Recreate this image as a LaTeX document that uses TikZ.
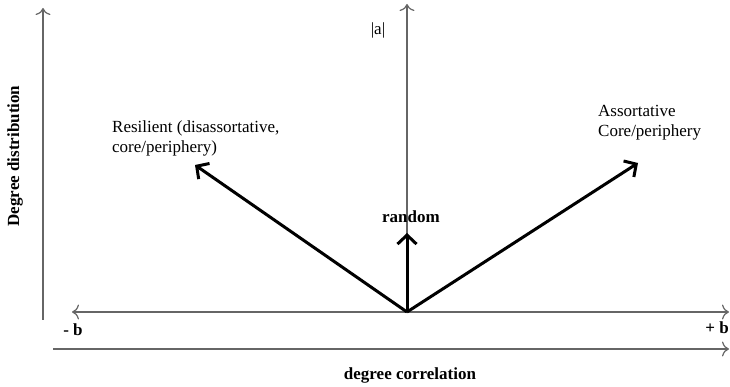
\documentclass[tikz,border=0pt]{standalone}
\usepackage{fontspec}
\setmainfont{Liberation Serif}
\usetikzlibrary{positioning, arrows.meta}

\begin{document}
\begin{tikzpicture}[x=1pt, y=1pt,
    axis/.style={draw=black!60, line width=1.2pt},
    tip/.style={-{To[length=7pt, width=15pt]}},
    trend/.style={line width=3pt, -{Straight Barb[length=9pt, width=19pt]}},
    lbl/.style={font=\fontsize{17}{20}\selectfont, align=left, inner sep=0pt},
    bl/.style={font=\fontsize{17}{20}\selectfont\bfseries, inner sep=0pt}]
    \useasboundingbox (0,0) rectangle (730,387);

    % Axes
    \coordinate (ydown) at (43,67);
    \coordinate (yup) at (43,379);
    \coordinate (O) at (407,75);
    \coordinate (atop) at (407,383);
    \coordinate (bneg) at (72,75);
    \coordinate (bpos) at (729,75);
    \coordinate (cleft) at (53,38);
    \coordinate (cright) at (729,38);
    \draw[axis, tip] (ydown) -- (yup);
    \draw[axis, tip] (O) -- (atop);
    \draw[axis, {To[length=7pt, width=15pt]}-{To[length=7pt, width=15pt]}] (bneg) -- (bpos);
    \draw[axis, tip] (cleft) -- (cright);

    % Trends
    \coordinate (resil) at (195,222);
    \coordinate (rand) at (407,154);
    \coordinate (assort) at (638,224);
    \draw[trend] (O) -- (resil);
    \draw[trend] (O) -- (rand);
    \draw[trend] (O) -- (assort);

    % Labels
    \node[bl] (minusb) at (73,57) {- b};
    \node[bl, anchor=east] (plusb) at (729,59) {+ b};
    \node[bl] (xlabel) at (410,12) {degree correlation};
    \node[bl, rotate=90] (ylabel) at (15,231) {Degree distribution};
    \node[lbl] (alabel) at (378,357) {|a|};
    \node[bl] (randlabel) at (411,170) {random};
    \node[lbl, anchor=west] (resillabel) at (112,249) {Resilient (disassortative,\\core/periphery)};
    \node[lbl, anchor=west] (assortlabel) at (598,264) {Assortative\\Core/periphery};
\end{tikzpicture}
\end{document}
